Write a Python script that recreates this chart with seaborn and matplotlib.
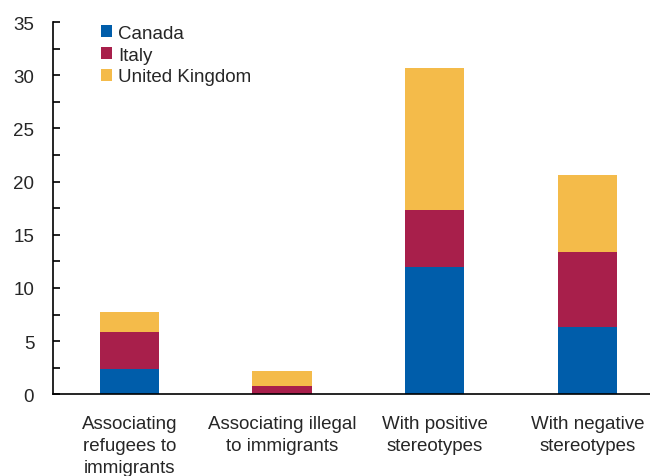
import matplotlib
matplotlib.use("Agg")
import matplotlib.pyplot as plt
from matplotlib.patches import Patch
from matplotlib.ticker import MultipleLocator
import seaborn as sns
import pandas as pd
import numpy as np

categories = ["Associating\nrefugees to\nimmigrants", "Associating illegal\nto immigrants",
              "With positive\nstereotypes", "With negative\nstereotypes"]
canada = [2.4, 0.0, 12.0, 6.3]
italy = [3.5, 0.75, 5.35, 7.1]
uk = [1.8, 1.4, 13.3, 7.25]
series_names = ["Canada", "Italy", "United Kingdom"]
colors = ["#005DAA", "#A81F4B", "#F4BB4A"]

sns.set_style("white")
plt.rcParams['font.family'] = ['Liberation Sans', 'DejaVu Sans']
FS = 13.5

fig = plt.figure(figsize=(6.5, 4.77), dpi=100)
ax = fig.add_axes([53/650, 81.7/477, 597/650, (395.3-23)/477])

c1 = np.array(canada)
c2 = c1 + np.array(italy)
c3 = c2 + np.array(uk)
layers = [(c3, colors[2]), (c2, colors[1]), (c1, colors[0])]
for vals, col in layers:
    df = pd.DataFrame({"cat": categories, "val": vals})
    sns.barplot(data=df, x="cat", y="val", color=col, width=0.39, ax=ax,
                saturation=1, edgecolor="none", linewidth=0)

ax.set_xlim(-0.5, 3.41)
ax.set_ylim(0, 35)
ax.yaxis.set_major_locator(MultipleLocator(5))
ax.yaxis.set_minor_locator(MultipleLocator(2.5))
ax.tick_params(axis="y", which="both", direction="in", length=5, width=1.2,
               color="black", left=True, labelsize=FS, pad=13.5)
ax.tick_params(axis="x", length=0, labelsize=FS, pad=15)
for lab in ax.get_xticklabels():
    lab.set_linespacing(1.38)
ax.set_xlabel("")
ax.set_ylabel("")
for s in ["top", "right"]:
    ax.spines[s].set_visible(False)
for s in ["left", "bottom"]:
    ax.spines[s].set_color("black")
    ax.spines[s].set_linewidth(1.2)

handles = [Patch(facecolor=c, edgecolor="none", label=n) for c, n in zip(colors, series_names)]
ax.legend(handles=handles, loc="upper left", bbox_to_anchor=(0.068, 1.012), frameon=False,
          fontsize=FS, handlelength=0.6, handleheight=0.6, handletextpad=0.3,
          labelspacing=0.25, borderaxespad=0)

fig.savefig("out.png", dpi=100)
